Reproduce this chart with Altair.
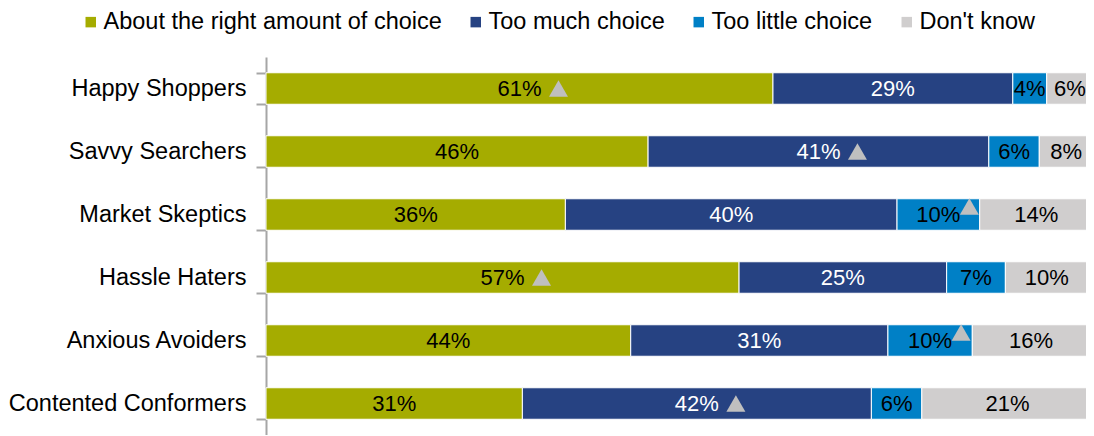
import altair as alt
import pandas as pd

categories = ["Happy Shoppers", "Savvy Searchers", "Market Skeptics",
              "Hassle Haters", "Anxious Avoiders", "Contented Conformers"]
series = ["About the right amount of choice", "Too much choice",
          "Too little choice", "Don't know"]
colors = ["#A5AC00", "#264282", "#0080C6", "#D0CECE"]

right_amount = [61.3, 46.2, 36.2, 57.2, 44.1, 31.0]
too_much = [29.0, 41.2, 40.1, 25.1, 31.1, 42.2]
too_little = [4.1, 6.1, 10.0, 7.1, 10.2, 6.1]
dont_know = [5.6, 6.5, 13.7, 10.0, 14.2, 20.7]

right_labels = ["61%", "46%", "36%", "57%", "44%", "31%"]
much_labels = ["29%", "41%", "40%", "25%", "31%", "42%"]
little_labels = ["4%", "6%", "10%", "7%", "10%", "6%"]
dk_labels = ["6%", "8%", "14%", "10%", "16%", "21%"]

# significance markers (grey triangles)
marker_category = ["Happy Shoppers", "Savvy Searchers", "Market Skeptics",
                   "Hassle Haters", "Anxious Avoiders", "Contented Conformers"]
marker_series = ["About the right amount of choice", "Too much choice",
                 "Too little choice", "About the right amount of choice",
                 "Too little choice", "Too much choice"]
marker_place = ["inline", "inline", "corner", "inline", "corner", "inline"]

values = [right_amount, too_much, too_little, dont_know]
labels = [right_labels, much_labels, little_labels, dk_labels]

rows = []
for i, cat in enumerate(categories):
    start = 0.0
    for s, vals, labs in zip(series, values, labels):
        end = start + vals[i]
        rows.append({"category": cat, "series": s, "x0": start, "x1": end,
                     "mid": (start + end) / 2, "label": labs[i]})
        start = end
df = pd.DataFrame(rows)

tri = pd.DataFrame({"category": marker_category, "series": marker_series,
                    "place": marker_place}).merge(df, on=["category", "series"])

FONT = "Liberation Sans"

y_enc = alt.Y("category:N", sort=categories,
              scale=alt.Scale(paddingInner=0.5, paddingOuter=0.25),
              axis=alt.Axis(title=None, tickBand="extent", labelFontSize=23.5,
                            labelFont=FONT, labelColor="black", labelPadding=10,
                            tickSize=10, domainColor="#A6A6A6", tickColor="#A6A6A6",
                            domainWidth=2, tickWidth=2, labelLimit=400, grid=False))
# the plot area shows the first 99.15 % of the full 100 % width; the rest runs to the page edge
x_scale = alt.Scale(domain=[0, 99.15], nice=False, zero=True)

bars = alt.Chart(df).mark_bar(stroke="white", strokeWidth=1).encode(
    x=alt.X("x0:Q", scale=x_scale, axis=None),
    x2="x1:Q",
    y=y_enc,
    color=alt.Color("series:N", sort=series,
                    scale=alt.Scale(domain=series, range=colors),
                    legend=alt.Legend(title=None, orient="none", direction="horizontal",
                                      legendX=-193, legendY=-47,
                                      labelFont=FONT, labelFontSize=23.5, labelColor="black",
                                      symbolType="square", symbolSize=110,
                                      symbolStrokeWidth=0, symbolOffset=6,
                                      columnPadding=16,
                                      labelOffset=1, labelLimit=500)),
)

text = alt.Chart(df).mark_text(fontSize=22, font=FONT, baseline="middle",
                               align="center").encode(
    x=alt.X("mid:Q", scale=x_scale, axis=None),
    y=alt.Y("category:N", sort=categories),
    text="label:N",
    color=alt.when(alt.datum.series == "Too much choice")
             .then(alt.value("white")).otherwise(alt.value("black")),
)

tri_inline = alt.Chart(tri[tri["place"] == "inline"]).mark_point(
    shape="triangle-up", filled=True, size=361, color="#BFBFBF", opacity=1,
    xOffset=39, yOffset=0).encode(
    x=alt.X("mid:Q", scale=x_scale, axis=None),
    y=alt.Y("category:N", sort=categories),
)
tri_corner = alt.Chart(tri[tri["place"] == "corner"]).mark_point(
    shape="triangle-up", filled=True, size=361, color="#BFBFBF", opacity=1,
    xOffset=31, yOffset=-8).encode(
    x=alt.X("mid:Q", scale=x_scale, axis=None),
    y=alt.Y("category:N", sort=categories),
)

chart = alt.layer(bars, text, tri_inline, tri_corner).properties(
    width=820, height=378,
    padding={"left": 258, "top": 49, "right": 0, "bottom": 0},
    autosize=alt.AutoSizeParams(type="none"),
).configure_view(strokeWidth=0)

chart.save("out.html", embed_options={"renderer": "svg", "actions": False})
